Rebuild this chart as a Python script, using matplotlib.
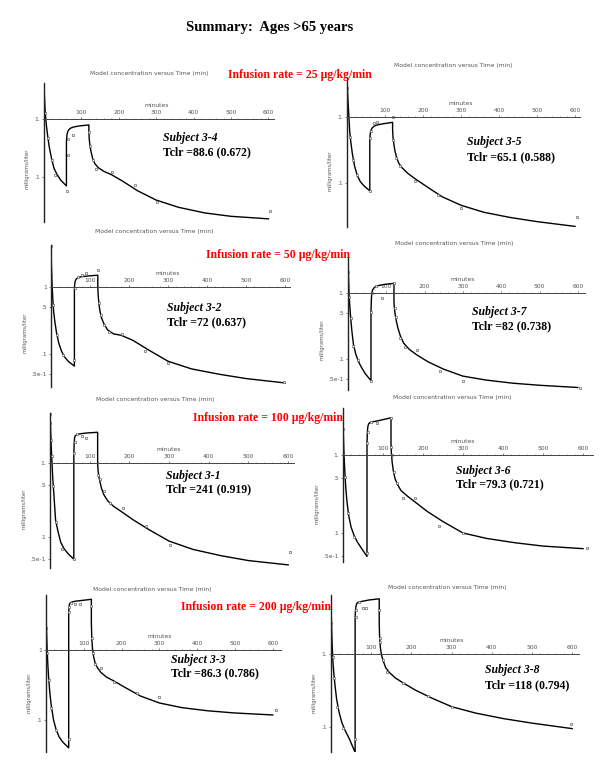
"""
Model concentration vs time, 8 subjects aged >65, grouped by infusion rate.
Saves out.png (600x776).
"""

import matplotlib
matplotlib.use("Agg")
import matplotlib.pyplot as plt

W, H = 600, 776
SERIF = "Liberation Serif"
SANS = "DejaVu Sans"
GREY = "#555555"

# ---- data ----
subjects = ["3-4", "3-5", "3-2", "3-7", "3-1", "3-6", "3-3", "3-8"]
tclr = ["88.6 (0.672)", "65.1 (0.588)", "72 (0.637)", "82 (0.738)",
        "241 (0.919)", "79.3 (0.721)", "86.3 (0.786)", "118 (0.794)"]
infusion_rates = [25, 50, 100, 200]

# common time grid of the model curves (min); 60 and 120 repeated for the steps
model_t = [0, 1, 2, 3, 5, 7, 10, 14, 20, 27, 35, 45, 60,
           60, 61, 62, 64, 67, 72, 80, 95, 120,
           120, 121, 123, 126, 130, 136, 145, 160, 180, 210, 250, 300, 360, 430, 500, 600]

model_34 = [4.0, 2.6, 1.9, 1.4, 0.95, 0.72, 0.5, 0.33, 0.21, 0.14, 0.11, 0.088, 0.07,
            0.4, 0.5, 0.56, 0.62, 0.66, 0.7, 0.73, 0.76, 0.79,
            0.6, 0.45, 0.34, 0.27, 0.21, 0.17, 0.145, 0.125, 0.11, 0.085, 0.058, 0.04, 0.03, 0.024, 0.021, 0.019]
model_35 = [3.9, 2.8, 2.1, 1.6, 1.0, 0.62, 0.42, 0.28, 0.18, 0.13, 0.105, 0.09, 0.076,
            0.45, 0.55, 0.6, 0.65, 0.69, 0.73, 0.76, 0.79, 0.83,
            0.65, 0.5, 0.4, 0.31, 0.25, 0.2, 0.17, 0.14, 0.115, 0.088, 0.062, 0.046, 0.036, 0.03, 0.026, 0.022]
model_32 = [4.2, 2.2, 1.4, 1.0, 0.6, 0.42, 0.3, 0.21, 0.145, 0.11, 0.09, 0.077, 0.066,
            0.97, 1.12, 1.22, 1.3, 1.35, 1.4, 1.43, 1.46, 1.5,
            1.0, 0.75, 0.55, 0.42, 0.34, 0.28, 0.23, 0.2, 0.19, 0.16, 0.115, 0.078, 0.06, 0.05, 0.043, 0.037]
model_37 = [3.5, 2.0, 1.3, 0.9, 0.6, 0.42, 0.27, 0.17, 0.12, 0.092, 0.075, 0.06, 0.047,
            0.52, 0.8, 1.0, 1.1, 1.18, 1.25, 1.3, 1.35, 1.4,
            0.75, 0.6, 0.48, 0.38, 0.3, 0.23, 0.175, 0.14, 0.115, 0.09, 0.07, 0.055, 0.048, 0.043, 0.04, 0.037]
model_31 = [4.6, 3.5, 2.4, 1.7, 1.0, 0.62, 0.36, 0.17, 0.12, 0.085, 0.07, 0.06, 0.05,
            1.3, 1.9, 2.2, 2.35, 2.4, 2.45, 2.5, 2.55, 2.6,
            1.0, 0.8, 0.66, 0.55, 0.45, 0.37, 0.31, 0.26, 0.22, 0.17, 0.125, 0.088, 0.068, 0.056, 0.048, 0.042]
model_36 = [4.0, 1.8, 1.2, 0.9, 0.55, 0.38, 0.25, 0.17, 0.12, 0.095, 0.078, 0.065, 0.05,
            1.4, 2.0, 2.3, 2.5, 2.6, 2.65, 2.7, 2.8, 3.0,
            1.4, 1.05, 0.8, 0.62, 0.5, 0.42, 0.35, 0.3, 0.25, 0.19, 0.14, 0.1, 0.085, 0.075, 0.068, 0.063]
model_33 = [3.5, 2.2, 1.5, 1.0, 0.6, 0.4, 0.25, 0.16, 0.1, 0.072, 0.057, 0.048, 0.04,
            3.5, 4.1, 4.5, 4.7, 4.8, 4.9, 5.0, 5.1, 5.3,
            2.5, 1.5, 1.05, 0.8, 0.65, 0.56, 0.48, 0.41, 0.36, 0.29, 0.22, 0.175, 0.15, 0.135, 0.126, 0.118]
model_38 = [6.0, 2.9, 1.9, 1.3, 0.75, 0.55, 0.37, 0.24, 0.16, 0.115, 0.09, 0.07, 0.045,
            3.2, 4.0, 4.5, 4.9, 5.1, 5.2, 5.3, 5.5, 5.7,
            2.5, 1.65, 1.2, 0.95, 0.8, 0.65, 0.56, 0.47, 0.4, 0.32, 0.25, 0.19, 0.155, 0.13, 0.113, 0.095]

# observed concentrations (min, mg/L)
obs_t_34 = [3, 11, 21, 30, 62, 63, 64, 78, 120, 122, 130, 140, 182, 242, 302, 605]
obs_c_34 = [1.27, 0.47, 0.2, 0.11, 0.057, 0.24, 0.45, 0.53, 0.6, 0.34, 0.2, 0.14, 0.12, 0.073, 0.037, 0.026]
obs_t_35 = [0.5, 7, 16, 26, 60, 61, 63, 70, 80, 120, 122, 130, 140, 180, 240, 300, 605]
obs_c_35 = [2.75, 0.5, 0.22, 0.13, 0.076, 0.48, 0.62, 0.8, 0.85, 1.0, 0.45, 0.24, 0.18, 0.107, 0.066, 0.042, 0.031]
obs_t_32 = [0, 1, 5, 15, 30, 59, 61, 69, 79, 90, 120, 122, 128, 135, 148, 181, 240, 300, 597]
obs_c_32 = [4.1, 1.5, 0.54, 0.19, 0.096, 0.08, 0.97, 1.4, 1.5, 1.6, 1.8, 0.58, 0.38, 0.27, 0.21, 0.2, 0.11, 0.073, 0.038]
obs_t_37 = [1, 3, 7, 14, 26, 60, 60, 62, 72, 90, 120, 122, 125, 135, 150, 180, 240, 300, 605]
obs_c_37 = [2.1, 0.87, 0.42, 0.16, 0.097, 0.047, 0.52, 1.0, 1.28, 0.85, 1.4, 0.59, 0.43, 0.21, 0.15, 0.137, 0.066, 0.047, 0.036]
obs_t_31 = [0, 1, 2, 4, 8, 14, 29, 60, 60, 62, 67, 80, 90, 122, 127, 135, 150, 183, 241, 302, 605]
obs_c_31 = [4.6, 3.5, 2.05, 1.24, 0.49, 0.16, 0.069, 0.05, 1.36, 1.9, 2.5, 2.3, 2.2, 0.69, 0.61, 0.42, 0.29, 0.25, 0.14, 0.078, 0.063]
obs_t_36 = [0, 1, 5, 12, 28, 60, 60, 62, 70, 85, 120, 120, 122, 127, 135, 149, 180, 240, 300, 610]
obs_c_36 = [2.15, 1.0, 0.52, 0.18, 0.089, 0.055, 1.42, 2.0, 2.65, 2.6, 3.0, 1.27, 1.0, 0.6, 0.44, 0.28, 0.28, 0.123, 0.1, 0.064]
obs_t_33 = [0, 3, 7, 14, 27, 60, 61, 62, 65, 77, 90, 120, 121, 124, 130, 146, 180, 240, 300, 608]
obs_c_33 = [2.06, 0.9, 0.37, 0.15, 0.072, 0.054, 3.5, 4.1, 4.7, 4.6, 4.5, 4.2, 1.48, 0.9, 0.63, 0.55, 0.35, 0.24, 0.21, 0.14]
obs_t_38 = [1, 4, 8, 16, 31, 60, 61, 62, 70, 80, 88, 120, 121, 122, 130, 140, 179, 241, 301, 597]
obs_c_38 = [2.66, 0.91, 0.47, 0.19, 0.097, 0.068, 3.2, 4.0, 5.2, 4.3, 4.3, 4.0, 1.65, 1.45, 0.83, 0.57, 0.4, 0.27, 0.19, 0.11]

models = [model_34, model_35, model_32, model_37, model_31, model_36, model_33, model_38]
obs_t = [obs_t_34, obs_t_35, obs_t_32, obs_t_37, obs_t_31, obs_t_36, obs_t_33, obs_t_38]
obs_c = [obs_c_34, obs_c_35, obs_c_32, obs_c_37, obs_c_31, obs_c_36, obs_c_33, obs_c_38]

ytick_vals = [[1, 0.1], [1, 0.1], [1, 0.5, 0.1, 0.05], [1, 0.5, 0.1, 0.05],
              [1, 0.5, 0.1, 0.05], [1, 0.5, 0.1, 0.05], [1, 0.1], [1, 0.1]]
ytick_text = [["1.", ".1"], ["1.", ".1"], ["1", ".5", ".1", ".5e-1"], ["1.", ".5", ".1", ".5e-1"],
              ["1.", ".5", ".1", ".5e-1"], ["1.", ".5", ".1", ".5e-1"], ["1", ".1"], ["1.", ".1"]]
xticks = [100, 200, 300, 400, 500, 600]

# ---- layout, in pixels of the 600x776 page ----
# x of t=0, px per minute, y of 1 mg/L, px per decade, axis top, axis bottom, t max
geom = [
    (44, 0.374, 119, 58, 83, 222, 615),
    (347, 0.380, 117, 66, 78, 227, 612),
    (51, 0.390, 287, 67, 245, 387, 612),
    (348, 0.383, 293, 66, 257, 390, 618),
    (50, 0.397, 463, 74, 413, 568, 615),
    (343, 0.400, 455, 78, 408, 562, 625),
    (46, 0.378, 650, 70, 595, 752, 622),
    (331, 0.402, 654, 73, 595, 752, 617),
]
title_pos = [(149, 74), (453, 65), (154, 231), (454, 244),
             (155, 400), (452, 398), (152, 590), (447, 588)]
subject_pos = [(163, 138, 152), (467, 142, 157), (167, 308, 322), (472, 312, 326),
               (166, 476, 489), (456, 471, 484), (171, 660, 673), (485, 670, 685)]
rate_pos = [(300, 75), (278, 255), (268, 418), (256, 607)]


def fx(px):
    return px / W


def fy(py):
    return 1 - py / H


fig = plt.figure(figsize=(6, 7.76), dpi=100)
fig.patch.set_facecolor("white")

for i in range(8):
    x0, ppm, y1, dec, top, bot, tmax = geom[i]
    ax = fig.add_axes([fx(x0), fy(bot), (tmax * ppm) / W, (bot - top) / H])
    ax.set_yscale("log")
    ax.set_xlim(0, tmax)
    ax.set_ylim(10 ** (-(bot - y1) / dec), 10 ** ((y1 - top) / dec))

    ax.plot(model_t, models[i], color="black", lw=1.0, solid_joinstyle="round")
    ax.plot(obs_t[i], obs_c[i], ls="none", marker="s", ms=1.7, mfc="white",
            mec="#555555", mew=0.45)

    for side in ("top", "right"):
        ax.spines[side].set_visible(False)
    ax.spines["bottom"].set_position(("data", 1.0))
    ax.spines["bottom"].set_color("#444444")
    ax.spines["bottom"].set_linewidth(0.7)
    ax.spines["left"].set_color("#222222")
    ax.spines["left"].set_linewidth(1.0)

    ax.set_xticks(xticks)
    ax.set_xticks(range(20, 620, 20), minor=True)
    ax.tick_params(axis="x", which="major", direction="in", length=1.5, width=0.5,
                   pad=-6.5, labelsize=4.3, labelcolor=GREY, color=GREY)
    ax.tick_params(axis="x", which="minor", direction="in", length=0.8, width=0.4, color=GREY)
    ax.set_yticks(ytick_vals[i])
    ax.set_yticklabels(ytick_text[i])
    ax.yaxis.set_minor_locator(matplotlib.ticker.NullLocator())
    ax.tick_params(axis="y", direction="out", length=1.5, width=0.5, pad=1.5,
                   labelsize=4.3, labelcolor=GREY, color=GREY)
    for lab in ax.get_xticklabels() + ax.get_yticklabels():
        lab.set_family(SANS)

    ax.annotate("minutes", xy=(300, 1.0), xycoords="data", xytext=(0, 9.5),
                textcoords="offset points", ha="center", va="center",
                fontsize=4.3, color=GREY, family=SANS)
    ax.set_ylabel("milligrams/liter", fontsize=3.8, color=GREY, family=SANS,
                  labelpad=3, y=0.38)
    ax.set_facecolor("none")

    tx, ty = title_pos[i]
    fig.text(fx(tx), fy(ty), "Model concentration versus Time (min)", ha="center",
             va="center", fontsize=4.3, color=GREY, family=SANS)

    sx, sy1, sy2 = subject_pos[i]
    fig.text(fx(sx), fy(sy1), f"Subject {subjects[i]}", ha="left", va="center",
             fontsize=8.5, family=SERIF, weight="bold", style="italic")
    fig.text(fx(sx), fy(sy2), f"Tclr ={tclr[i]}", ha="left", va="center",
             fontsize=8.5, family=SERIF, weight="bold")

for rate, (rx, ry) in zip(infusion_rates, rate_pos):
    fig.text(fx(rx), fy(ry), f"Infusion rate = {rate} \u00b5g/kg/min", ha="center",
             va="center", fontsize=8.5, family=SERIF, weight="bold", color="#ff0000")

fig.text(fx(270), fy(27), "Summary:  Ages >65 years", ha="center", va="center",
         fontsize=10.5, family=SERIF, weight="bold")

fig.savefig("out.png", dpi=100, facecolor="white")
